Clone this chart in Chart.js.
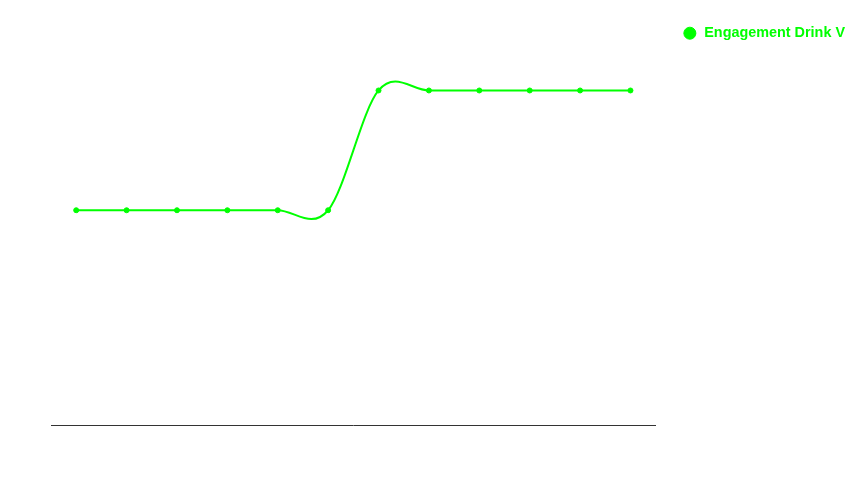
<!DOCTYPE html>
<html>
<head>
<meta charset="utf-8">
<script src="https://cdn.jsdelivr.net/npm/chart.js@4/dist/chart.umd.min.js"></script>
<style>
  html, body { margin: 0; padding: 0; background: #fff; }
  #wrap { width: 858px; height: 484px; }
</style>
</head>
<body>
<div id="wrap"><canvas id="chart" width="858" height="484"></canvas></div>
<script>
// chart values
const labels = ['1', '2', '3', '4', '5', '6', '7', '8', '9', '10', '11', '12'];
const seriesName = 'Engagement Drink V';
const seriesValues = [52, 52, 52, 52, 52, 52, 81, 81, 81, 81, 81, 81];
const lineColor = '#00ff00';

// nudge the legend sideways after layout, so the plot keeps its width
const legendNudge = {
	id: 'legendNudge',
	afterLayout(chart, args, opts) {
		const lg = chart.legend;
		if (!lg) return;
		lg.left += opts.dx || 0;
		lg.right += opts.dx || 0;
	}
};

// uniform cardinal curve: control points from the neighbours the scales placed
const cardinalCurve = {
	id: 'cardinalCurve',
	beforeDatasetsDraw(chart) {
		chart.getSortedVisibleDatasetMetas().forEach(meta => {
			if (meta.type !== 'line' || !meta.dataset) return;
			const pts = meta.data;
			pts.forEach((p, i) => {
				const prev = pts[Math.max(i - 1, 0)];
				const next = pts[Math.min(i + 1, pts.length - 1)];
				const dx = (next.x - prev.x) / 6;
				const dy = (next.y - prev.y) / 6;
				p.cp1x = p.x - dx; p.cp1y = p.y - dy;
				p.cp2x = p.x + dx; p.cp2y = p.y + dy;
			});
			meta.dataset._pointsUpdated = true;
		});
	}
};

(() => {
	const ctx = document.getElementById('chart').getContext('2d');
	new Chart(ctx, {
		type: 'line',
		data: {
			labels: labels,
			datasets: [{
				label: seriesName,
				data: seriesValues,
				borderColor: lineColor,
				backgroundColor: lineColor,
				borderWidth: 2,
				pointRadius: 2.5,
				pointBorderWidth: 1,
				pointHoverRadius: 2.5,
				tension: 0.4,
				fill: false
			}]
		},
		options: {
			responsive: false,
			animation: false,
			layout: { padding: { left: 51, top: 12, bottom: 59, right: 16 } },
			plugins: {
				legend: {
					position: 'right',
					align: 'start',
					labels: {
						usePointStyle: true,
						pointStyle: 'circle',
						boxWidth: 16,
						boxHeight: 8.5,
						padding: 14,
						color: lineColor,
						font: { family: 'Liberation Sans, Arial, sans-serif', size: 14.4, weight: 'bold' }
					}
				},
				legendNudge: { dx: 13 },
				tooltip: { enabled: false }
			},
			scales: {
				x: {
					offset: true,
					grid: { display: false, drawTicks: false },
					border: { display: true, color: '#333333', width: 1 },
					ticks: { display: false }
				},
				y: {
					display: false,
					min: 0,
					max: 100
				}
			}
		},
		plugins: [legendNudge, cardinalCurve]
	});
})();
</script>
</body>
</html>
